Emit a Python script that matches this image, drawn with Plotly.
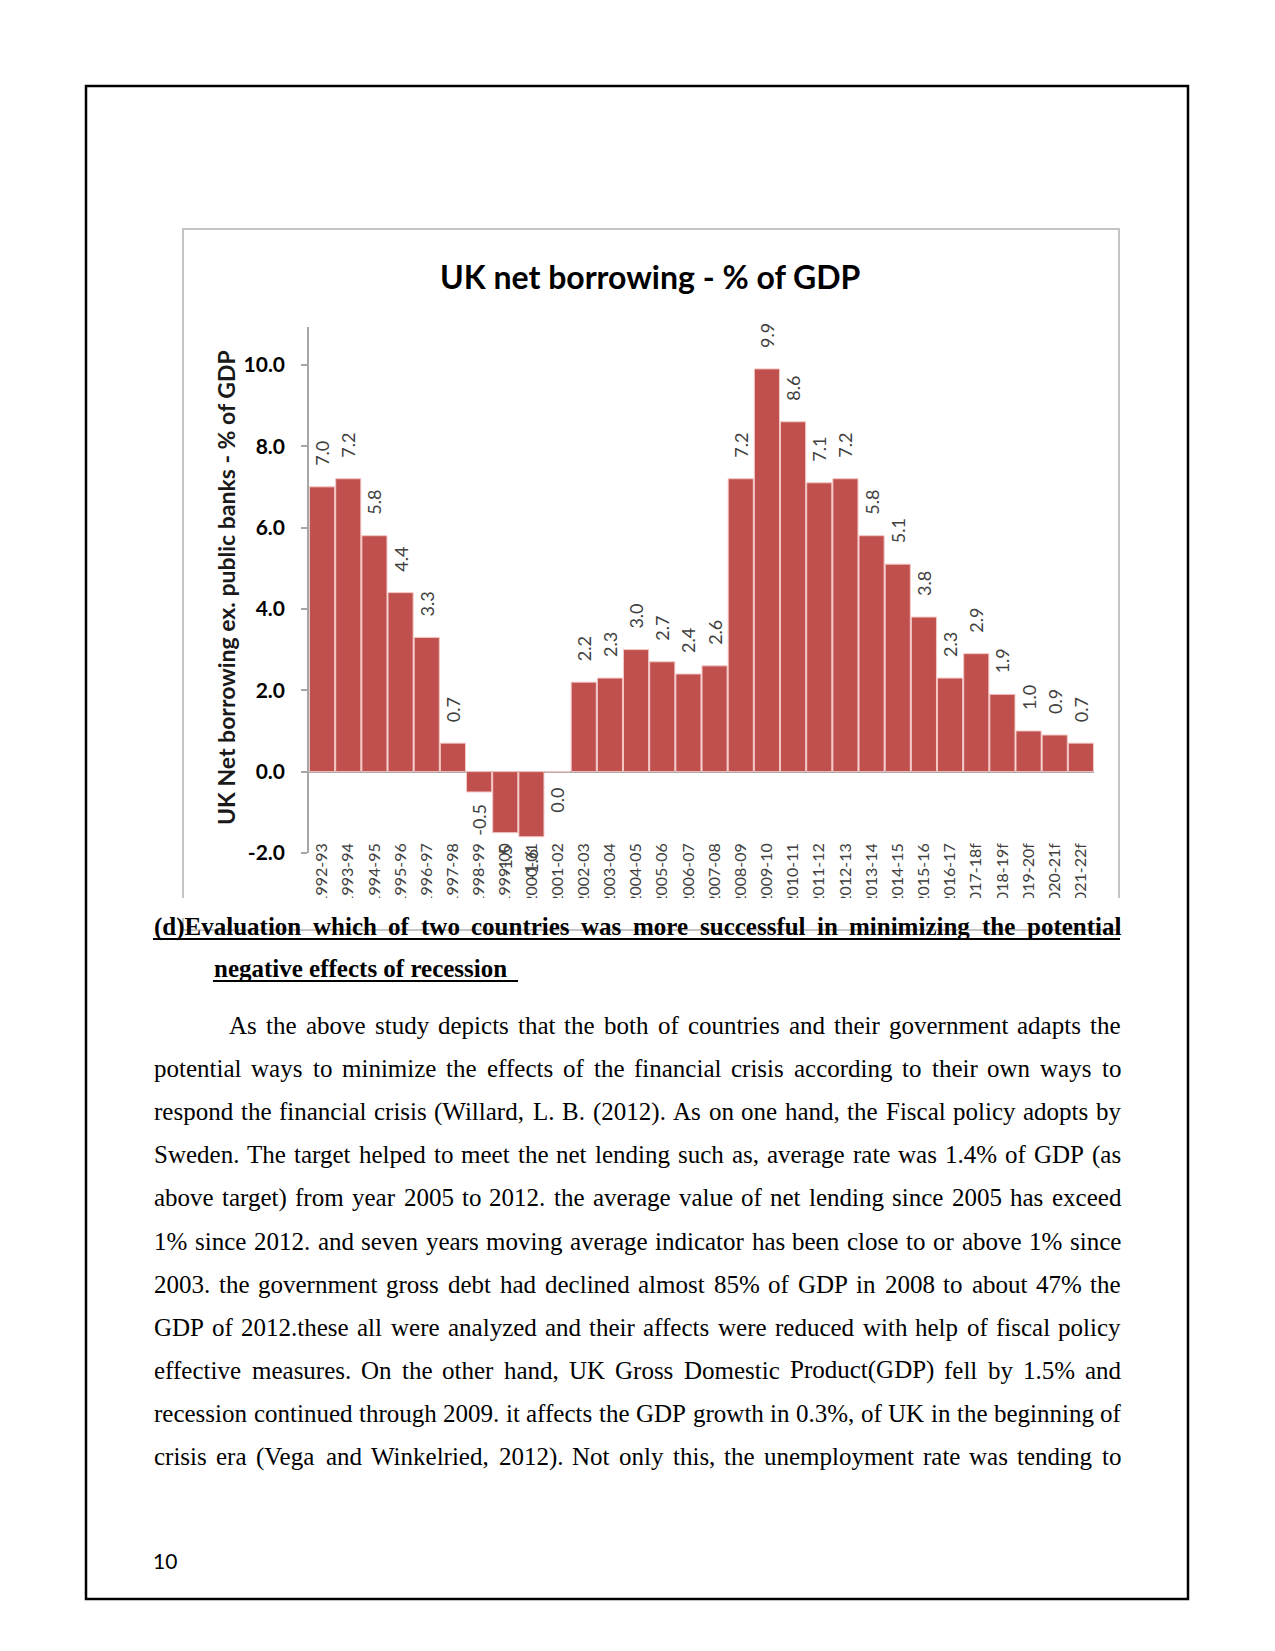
import plotly.graph_objects as go

W, H = 1275, 1651

# ---------------- chart data ----------------
categories = ["1992-93", "1993-94", "1994-95", "1995-96", "1996-97", "1997-98",
              "1998-99", "1999-00", "2000-01", "2001-02", "2002-03", "2003-04",
              "2004-05", "2005-06", "2006-07", "2007-08", "2008-09", "2009-10",
              "2010-11", "2011-12", "2012-13", "2013-14", "2014-15", "2015-16",
              "2016-17", "2017-18f", "2018-19f", "2019-20f", "2020-21f", "2021-22f"]
values = [7.0, 7.2, 5.8, 4.4, 3.3, 0.7, -0.5, -1.5, -1.6, 0.0, 2.2, 2.3,
          3.0, 2.7, 2.4, 2.6, 7.2, 9.9, 8.6, 7.1, 7.2, 5.8, 5.1, 3.8,
          2.3, 2.9, 1.9, 1.0, 0.9, 0.7]
y_tick_values = [-2, 0, 2, 4, 6, 8, 10]
y_tick_labels = ["-2.0", "0.0", "2.0", "4.0", "6.0", "8.0", "10.0"]
chart_title = "UK net borrowing - % of GDP"
y_title = "UK Net borrowing ex. public banks - % of GDP"

# ---------------- page text ----------------
heading_line1 = "(d)Evaluation which of two countries was more successful in minimizing the potential"
heading_line2 = "negative effects of recession"
paragraph_lines = [
    "As the above study depicts that the both of countries and their government adapts the",
    "potential ways to minimize the effects of the financial crisis according to their own ways to",
    "respond the financial crisis (Willard, L. B. (2012). As on one hand, the Fiscal policy adopts by",
    "Sweden. The target helped to meet the net lending such as, average rate was 1.4% of GDP (as",
    "above target) from year 2005 to 2012. the average value of net lending since 2005 has exceed",
    "1% since 2012. and seven years moving average indicator has been close to or above 1% since",
    "2003. the government gross debt had declined almost 85% of GDP in 2008 to about 47% the",
    "GDP of 2012.these all were analyzed and their affects were reduced with help of fiscal policy",
    "effective measures. On the other hand, UK Gross Domestic Product(GDP) fell by 1.5% and",
    "recession continued through 2009. it affects the GDP growth in 0.3%, of UK in the beginning of",
    "crisis era (Vega and Winkelried, 2012). Not only this, the unemployment rate was tending to",
]
page_number = "10"

# Times (Liberation Serif is metric compatible) advance widths per 1000 em
TIMES_REG = {' ': 250, '!': 333, '%': 833, '(': 333, ')': 333, ',': 250, '-': 333, '.': 250,
             ':': 278, ';': 278, '/': 278,
             'A': 722, 'B': 667, 'C': 667, 'D': 722, 'E': 611, 'F': 556, 'G': 722, 'H': 722,
             'I': 333, 'J': 389, 'K': 722, 'L': 611, 'M': 889, 'N': 722, 'O': 722, 'P': 556,
             'Q': 722, 'R': 667, 'S': 556, 'T': 611, 'U': 722, 'V': 722, 'W': 944, 'X': 722,
             'Y': 722, 'Z': 611,
             'a': 444, 'b': 500, 'c': 444, 'd': 500, 'e': 444, 'f': 333, 'g': 500, 'h': 500,
             'i': 278, 'j': 278, 'k': 500, 'l': 278, 'm': 778, 'n': 500, 'o': 500, 'p': 500,
             'q': 500, 'r': 333, 's': 389, 't': 278, 'u': 500, 'v': 500, 'w': 722, 'x': 500,
             'y': 500, 'z': 444}
TIMES_BOLD = {' ': 250, '%': 1000, '(': 333, ')': 333, ',': 250, '-': 333, '.': 250,
              'A': 722, 'B': 667, 'C': 722, 'D': 722, 'E': 667, 'F': 611, 'G': 778, 'H': 778,
              'I': 389, 'J': 500, 'K': 778, 'L': 667, 'M': 944, 'N': 722, 'O': 778, 'P': 611,
              'a': 500, 'b': 556, 'c': 444, 'd': 556, 'e': 444, 'f': 333, 'g': 500, 'h': 556,
              'i': 278, 'j': 333, 'k': 556, 'l': 278, 'm': 833, 'n': 556, 'o': 500, 'p': 556,
              'q': 556, 'r': 444, 's': 389, 't': 333, 'u': 556, 'v': 500, 'w': 722, 'x': 500,
              'y': 500, 'z': 444}


def px(x):
    return x / W


def py(y):
    return 1 - y / H


def word_width(word, table, size):
    return sum(table.get(c, 500) for c in word) * size / 1000.0


SERIF = "Liberation Serif"
BODY_SIZE = 25
annotations = []


def add_justified(line, left, right, baseline, bold=False):
    table = TIMES_BOLD if bold else TIMES_REG
    words = line.split(" ")
    ws = [word_width(w, table, BODY_SIZE) for w in words]
    gap = (right - left - sum(ws)) / (len(words) - 1)
    x = left
    yc = baseline - 0.3375 * BODY_SIZE
    for w, wd in zip(words, ws):
        annotations.append(dict(
            text=("<b>%s</b>" % w) if bold else w, x=px(x), y=py(yc),
            xref="paper", yref="paper", xanchor="left", yanchor="middle",
            showarrow=False, borderpad=0,
            font=dict(family=SERIF, size=BODY_SIZE, color="#000000")))
        x += wd + gap


def add_plain(line, left, baseline, bold=False):
    yc = baseline - 0.3375 * BODY_SIZE
    annotations.append(dict(
        text=("<b>%s</b>" % line) if bold else line, x=px(left), y=py(yc),
        xref="paper", yref="paper", xanchor="left", yanchor="middle",
        showarrow=False, borderpad=0,
        font=dict(family=SERIF, size=BODY_SIZE, color="#000000")))


TEXT_LEFT, TEXT_RIGHT = 153, 1120
add_justified(heading_line1, TEXT_LEFT, TEXT_RIGHT, 935, bold=True)
add_plain(heading_line2, 213, 977, bold=True)
for i, line in enumerate(paragraph_lines):
    left = 228 if i == 0 else TEXT_LEFT
    add_justified(line, left, TEXT_RIGHT, 1034 + 43.1 * i)

# chart title and y-axis title
annotations.append(dict(text="<b>%s</b>" % chart_title, x=px(650), y=py(276),
                        xref="paper", yref="paper", xanchor="center", yanchor="middle",
                        showarrow=False, font=dict(family="Lato", size=32, color="#000000")))
annotations.append(dict(text="<b>%s</b>" % y_title, x=px(226), y=py(588), textangle=-90,
                        xref="paper", yref="paper", xanchor="center", yanchor="middle",
                        showarrow=False, font=dict(family="Lato", size=23, color="#1a1a1a")))
# page number
annotations.append(dict(text=page_number, x=px(152), y=py(1560),
                        xref="paper", yref="paper", xanchor="left", yanchor="middle",
                        showarrow=False, borderpad=0,
                        font=dict(family="Lato", size=21, color="#000000")))

# data labels (with a little padding away from the bar end, like the Excel chart)
label_font = dict(family="Lato", size=18, color="#404040")
label_text = []
for cat, v in zip(categories, values):
    t = "%.1f" % v
    if v > 0:
        label_text.append("\u2002\u2002" + t)
    elif v < 0:
        label_text.append(t + "\u2002")
    else:
        # Excel puts the zero label under the axis line
        label_text.append("")
        annotations.append(dict(text=t, x=cat, y=v, xref="x", yref="y", textangle=-90,
                                xanchor="center", yanchor="top", yshift=-14,
                                showarrow=False, font=label_font))

bar = go.Bar(
    x=categories, y=values,
    marker=dict(color="#C0504D", line=dict(color="#F3C6C4", width=1)),
    text=label_text, textposition="outside", textangle=-90,
    textfont=label_font,
    constraintext="none", cliponaxis=False, hoverinfo="skip",
)

shapes = [
    # page border
    dict(type="rect", xref="paper", yref="paper", x0=px(86), x1=px(1188), y0=py(86), y1=py(1599),
         line=dict(color="#000000", width=2.5), fillcolor="rgba(0,0,0,0)", layer="below"),
    # chart image frame
    dict(type="rect", xref="paper", yref="paper", x0=px(183), x1=px(1119), y0=py(229), y1=py(930),
         line=dict(color="#C4C4C4", width=2), fillcolor="rgba(0,0,0,0)", layer="below"),
    # bottom of the pasted chart image is cropped
    dict(type="rect", xref="paper", yref="paper", x0=px(170), x1=px(1135), y0=py(898), y1=py(918),
         line=dict(width=0), fillcolor="#FFFFFF", layer="above"),
    # heading underlines
    dict(type="line", xref="paper", yref="paper", x0=px(TEXT_LEFT), x1=px(TEXT_RIGHT), y0=py(939), y1=py(939),
         line=dict(color="#000000", width=1.8), layer="above"),
    dict(type="line", xref="paper", yref="paper", x0=px(213), x1=px(518), y0=py(981), y1=py(981),
         line=dict(color="#000000", width=1.8), layer="above"),
]

fig = go.Figure(bar)
fig.update_layout(
    width=W, height=H, autosize=False,
    margin=dict(l=0, r=0, t=0, b=0, pad=0, autoexpand=False),
    paper_bgcolor="#FFFFFF", plot_bgcolor="rgba(0,0,0,0)",
    showlegend=False, bargap=0.04,
    annotations=annotations, shapes=shapes,
    xaxis=dict(domain=[px(309), px(1094)], type="category", range=[-0.5, 29.5],
               anchor="free", position=py(839), showline=False, showgrid=False,
               zeroline=False, ticks="", tickangle=-90, automargin=False,
               tickfont=dict(family="Lato", size=16, color="#404040")),
    yaxis=dict(domain=[py(853), py(327)], range=[-2, 10.93], anchor="x",
               tickvals=y_tick_values, ticktext=y_tick_labels, automargin=False,
               showgrid=False, showline=True, linecolor="#A6A6A6", linewidth=1.5,
               ticks="outside", ticklen=6, tickcolor="#A6A6A6", tickwidth=1.5,
               ticklabelstandoff=12,
               zeroline=True, zerolinecolor="#A6A6A6", zerolinewidth=1.5,
               tickfont=dict(family="Lato", size=21, color="#000000", weight="bold")),
)

fig.write_html("out.html", config={"displayModeBar": False, "responsive": False})
